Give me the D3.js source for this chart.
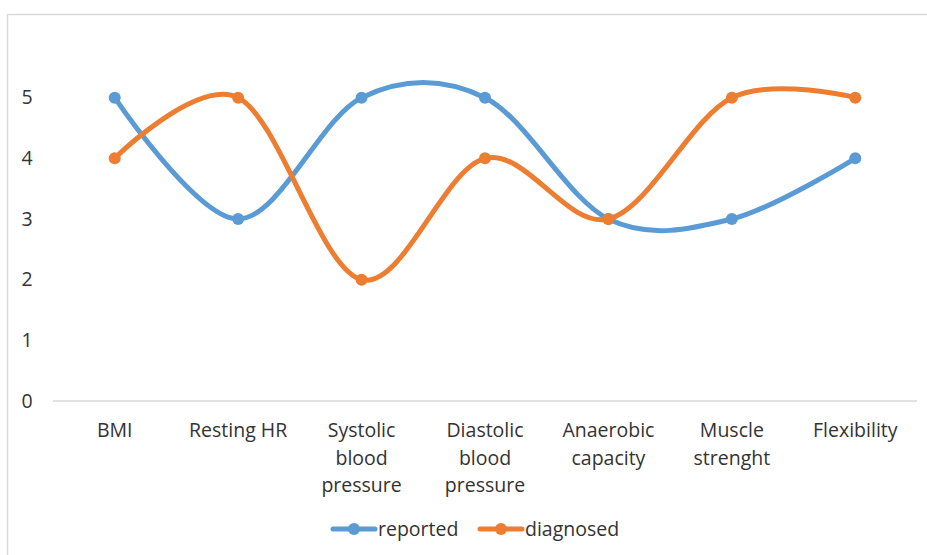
<!DOCTYPE html>
<html>
<head>
<meta charset="utf-8">
<script src="https://cdn.jsdelivr.net/npm/d3@7"></script>
<style>
  body { margin: 0; background: #fff; }
  text { font-family: "Open Sans", "Liberation Sans", sans-serif; fill: #333; }
</style>
</head>
<body>
<div id="chart"></div>
<script>
var categories = [
  ["BMI"],
  ["Resting HR"],
  ["Systolic", "blood", "pressure"],
  ["Diastolic", "blood", "pressure"],
  ["Anaerobic", "capacity"],
  ["Muscle", "strenght"],
  ["Flexibility"]
];
var reported = [5, 3, 5, 5, 3, 3, 4];
var diagnosed = [4, 5, 2, 4, 3, 5, 5];
var yTicks = [0, 1, 2, 3, 4, 5];
var seriesNames = ["reported", "diagnosed"];

var W = 927, H = 555;
var margin = {top: 37, right: 10, bottom: 154, left: 53};

var svg = d3.select("#chart").append("svg")
  .attr("width", W)
  .attr("height", H);

// chart border (only left/top visible in frame)
svg.append("rect")
  .attr("x", 7.5).attr("y", 14.5)
  .attr("width", W + 20).attr("height", H + 20)
  .attr("fill", "none")
  .attr("stroke", "#d9d9d9")
  .attr("stroke-width", 1.5);

var idx = categories.map(function(d, i) { return i; });

var x = d3.scaleBand()
  .domain(idx)
  .range([margin.left, 917]);

var y = d3.scaleLinear()
  .domain([0, 6])
  .range([H - margin.bottom, margin.top]);

var z = d3.scaleOrdinal()
  .domain(seriesNames)
  .range(["#5B9BD5", "#ED7D31"]);

// baseline
svg.append("line")
  .attr("x1", margin.left).attr("x2", 917)
  .attr("y1", y(0)).attr("y2", y(0))
  .attr("stroke", "#d9d9d9")
  .attr("stroke-width", 1.5);

// y tick labels
svg.selectAll(".ytick")
  .data(yTicks)
  .enter().append("text")
    .attr("class", "ytick")
    .attr("x", 27)
    .attr("y", function(d) { return y(d); })
    .attr("dy", "0.35em")
    .attr("text-anchor", "middle")
    .style("font-size", "19.5px")
    .text(function(d) { return d; });

// x labels
var xl = svg.selectAll(".xlab")
  .data(categories)
  .enter().append("text")
    .attr("class", "xlab")
    .attr("text-anchor", "middle")
    .attr("transform", function(d, i) { return "translate(" + (x(i) + x.bandwidth() / 2) + "," + 437 + ")"; })
    .style("font-size", "19.5px");

xl.selectAll("tspan")
  .data(function(d) { return d; })
  .enter().append("tspan")
    .attr("x", 0)
    .attr("y", function(d, i) { return i * 27.5; })
    .text(function(d) { return d; });

var line = d3.line()
  .x(function(d, i) { return x(i) + x.bandwidth() / 2; })
  .y(function(d) { return y(d); })
  .curve(d3.curveCardinal.tension(0));

var series = [reported, diagnosed];

var sg = svg.selectAll(".serie")
  .data(series)
  .enter().append("g")
    .attr("class", "serie");

sg.append("path")
  .attr("d", function(d) { return line(d); })
  .attr("fill", "none")
  .attr("stroke", function(d, i) { return z(seriesNames[i]); })
  .attr("stroke-width", 5)
  .attr("stroke-linecap", "round");

sg.selectAll("circle")
  .data(function(d, i) { return d.map(function(v) { return {v: v, s: i}; }); })
  .enter().append("circle")
    .attr("cx", function(d, i) { return x(i) + x.bandwidth() / 2; })
    .attr("cy", function(d) { return y(d.v); })
    .attr("r", 6)
    .attr("fill", function(d) { return z(seriesNames[d.s]); });

// legend
var legend = svg.selectAll(".legend")
  .data(seriesNames)
  .enter().append("g")
    .attr("class", "legend")
    .attr("transform", function(d, i) { return "translate(" + (333 + i * 147) + ",529)"; });

legend.append("line")
  .attr("x1", 0).attr("x2", 42)
  .attr("stroke", z)
  .attr("stroke-width", 5)
  .attr("stroke-linecap", "round");

legend.append("circle")
  .attr("cx", 21)
  .attr("r", 6)
  .attr("fill", z);

legend.append("text")
  .attr("x", 45)
  .attr("dy", "0.35em")
  .style("font-size", "19.5px")
  .text(function(d) { return d; });
</script>
</body>
</html>
